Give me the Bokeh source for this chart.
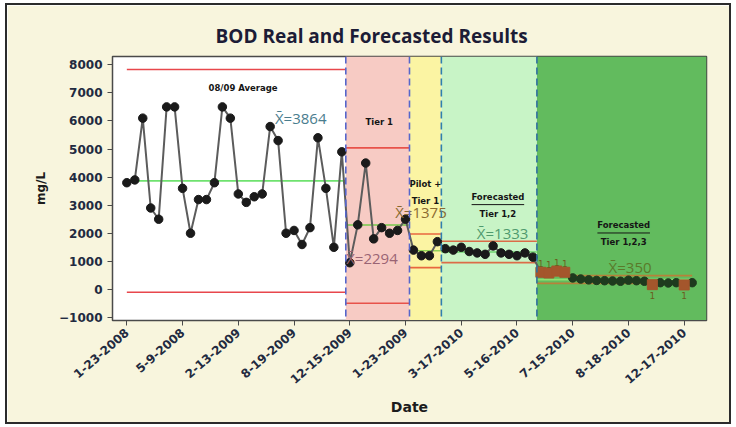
import numpy as np
from bokeh.plotting import figure
from bokeh.models import Range1d, FixedTicker, Span
from bokeh.embed import file_html
from bokeh.resources import INLINE
from bokeh.core.properties import value

# ---------------- data ----------------
bod = [3800, 3900, 6100, 2900, 2500, 6500, 6500, 3600, 2000, 3200, 3200, 3800, 6500, 6100,
       3400, 3100, 3300, 3400, 5800, 5300, 2000, 2100, 1600, 2200, 5400, 3600, 1500, 4900,
       950, 2300, 4500, 1800, 2200, 2000, 2100, 2500,
       1400, 1200, 1200, 1700,
       1450, 1400, 1500, 1350, 1300, 1250, 1550, 1300, 1250, 1200, 1300, 1150,
       610, 585, 655, 610, 410, 370, 340, 320, 310, 300, 290, 330, 310, 290, 170, 240, 230, 240, 160, 240]
flagged = [53, 54, 55, 56, 67, 71]          # out-of-control observations (test 1)

stage_edges = [1, 28.5, 36.5, 40.5, 52.5, 72]
stage_mean = [3864, 2294, 1375, 1333, 350]
stage_ucl = [7830, 5040, 1975, 1713, 490]
stage_lcl = [-100, -490, 775, 953, 215]
mean_labels = ["X\u0304=3864", "X\u0304=2294", "X\u0304=1375", "X\u0304=1333", "X\u0304=350"]

tick_obs = [1, 8, 15, 22, 29, 36, 43, 50, 57, 64, 71]
tick_dates = ["1-23-2008", "5-9-2008", "2-13-2009", "8-19-2009", "12-15-2009", "1-23-2009",
              "3-17-2010", "5-16-2010", "7-15-2010", "8-18-2010", "12-17-2010"]

zone_names = ["08/09 Average", "Tier 1", "Pilot +\nTier 1", "Forecasted\nTier 1,2", "Forecasted\nTier 1,2,3"]

# ---------------- styles ----------------
zone_colors = ["#ffffff", "#f7cbc4", "#fbf4a3", "#c8f4c6", "#62bb5e"]
limit_colors = ["#e8474c", "#e8524a", "#e8673f", "#db6c48", "#b7813a"]
center_colors = ["#6fe26f", "#76c84c", "#93d456", "#6fd46f", "#8ee070"]
label_colors = ["#4a7d8e", "#9a6474", "#8a6a30", "#4f9a6e", "#5a7a2a"]
divider_colors = ["#5566cc", "#5566cc", "#2f7fb0", "#2f6f9f"]

x = np.arange(1, len(bod) + 1)
y = np.array(bod, dtype=float)

xr = Range1d(-0.8, 73.8)
yr = Range1d(-1107, 8295)

p = figure(width=722, height=417, x_range=xr, y_range=yr,
           output_backend="svg", toolbar_location=None,
           min_border_left=105, min_border_right=23, min_border_top=51, min_border_bottom=102)

p.styles = {"margin-left": "7px", "margin-top": "5px", "outline": "2px solid #2b2b2b"}
p.border_fill_color = "#f8f5dd"
p.background_fill_color = "#ffffff"
p.outline_line_color = "#4a4a4a"
p.outline_line_width = 1.5
p.xgrid.visible = False
p.ygrid.visible = False

# title
p.title.text = "BOD Real and Forecasted Results"
p.title.text_font = "Open Sans"
p.title.text_font_style = "bold"
p.title.text_font_size = "19px"
p.title.text_color = "#1c1c36"
p.title.align = "left"
p.title.offset = 103
p.title.standoff = 15

# zone backgrounds (stages 2..5)
zl = stage_edges[1:5]
zr = stage_edges[2:5] + [xr.end]
p.quad(left=zl, right=zr, bottom=yr.start, top=yr.end, fill_color=zone_colors[1:], line_color=None)

# control limits and centre lines per stage
p.segment(x0=stage_edges[:-1], x1=stage_edges[1:], y0=stage_ucl, y1=stage_ucl, line_color=limit_colors, line_width=1.6)
p.segment(x0=stage_edges[:-1], x1=stage_edges[1:], y0=stage_lcl, y1=stage_lcl, line_color=limit_colors, line_width=1.6)
p.segment(x0=stage_edges[:-1], x1=stage_edges[1:], y0=stage_mean, y1=stage_mean, line_color=center_colors, line_width=1.6)

# data line and points
p.line(x, y, line_color="#5c5c5c", line_width=2)
mask = np.isin(x, flagged)
pt_colors = ["#1a1a1a" if xi < 53 else "#1e3a1e" for xi in x[~mask]]
p.scatter(x[~mask], y[~mask], size=8.5, fill_color=pt_colors, line_color=pt_colors)
p.scatter(x[mask], y[mask], marker="square", size=10, fill_color="#a4562c", line_color="#a4562c")
fx = x[mask]
fy = y[mask]
above = np.array([v > stage_mean[4] for v in fy])
p.text(fx[above], fy[above], text=["1"] * int(above.sum()), y_offset=-5,
       text_font=value("DejaVu Sans"), text_font_size="9px", text_color="#6b5e1e",
       text_align="center", text_baseline="bottom")
p.text(fx[~above], fy[~above], text=["1"] * int((~above).sum()), y_offset=7,
       text_font=value("DejaVu Sans"), text_font_size="9px", text_color="#6b5e1e",
       text_align="center", text_baseline="top")

# mean labels
mlx = [19.6, 28.55, 34.7, 44.96, 61.5]
mly = [6110, 1130, 2740, 2020, 810]
p.text(mlx, mly, text=mean_labels, text_font=value("Open Sans"), text_font_size="15px",
       text_color=label_colors, text_align="left", text_baseline="middle")

# zone names
znx = [15.6, 32.7, 38.5, 47.6, 63.4]
zny = [7190, 5960, 3450, 2990, 1980]
p.text(znx, zny, text=zone_names, text_font=value("DejaVu Sans"), text_font_style="bold",
       text_font_size="8.5px", text_color="#151515", text_align="center", text_baseline="middle",
       text_line_height=1.7)
# underline "Forecasted"
ux = [znx[3], znx[4]]
uy = [zny[3] + 30, zny[4] + 30]
p.segment(x0=[u - 3.3 for u in ux], x1=[u + 3.3 for u in ux], y0=uy, y1=uy, line_color="#151515", line_width=1)

# stage dividers
for e, c in zip(stage_edges[1:5], divider_colors):
    p.add_layout(Span(location=e, dimension="height", line_color=c, line_dash="7 4", line_width=1.6))

# axes
p.xaxis.ticker = FixedTicker(ticks=tick_obs)
p.xaxis.major_label_overrides = {t: d for t, d in zip(tick_obs, tick_dates)}
p.xaxis.major_label_orientation = 0.72
p.yaxis.ticker = FixedTicker(ticks=list(range(-1000, 8001, 1000)))
for ax in (p.xaxis, p.yaxis):
    ax.major_label_text_font = "DejaVu Sans"
    ax.major_label_text_font_style = "bold"
    ax.major_label_text_font_size = "12px"
    ax.major_label_text_color = "#222a40"
    ax.axis_label_text_font = "DejaVu Sans"
    ax.axis_label_text_font_style = "bold"
    ax.axis_label_text_color = "#1c1c1c"
    ax.major_tick_out = 5
    ax.major_tick_in = 0
    ax.minor_tick_line_color = None
    ax.axis_line_color = "#4a4a4a"
    ax.major_tick_line_color = "#4a4a4a"
p.xaxis.axis_label = "Date"
p.xaxis.axis_label_text_font_size = "14px"
p.xaxis.axis_label_standoff = 8
p.yaxis.axis_label = "mg/L"
p.yaxis.axis_label_text_font_size = "12px"
p.yaxis.axis_label_standoff = 8

open("out.html", "w").write(file_html(p, INLINE))
